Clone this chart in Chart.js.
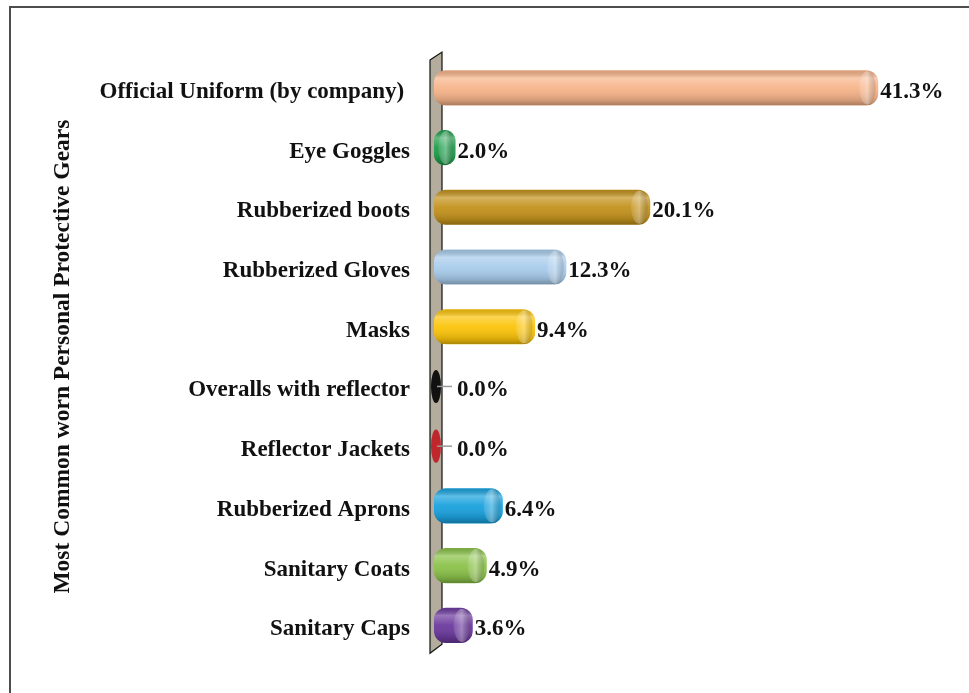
<!DOCTYPE html>
<html>
<head>
<meta charset="utf-8">
<script src="https://cdn.jsdelivr.net/npm/chart.js@4.4.1/dist/chart.umd.min.js"></script>
<style>
  html, body { margin: 0; padding: 0; background: #fff; overflow: hidden; }
  #frame { position: absolute; left: 9px; top: 6px; width: 1000px; height: 1000px;
           border: 2px solid #4d4d4d; box-sizing: border-box; }
  #wrap { position: absolute; left: 0; top: 0; width: 969px; height: 693px; }
</style>
</head>
<body>
<div id="frame"></div>
<div id="wrap"><canvas id="ppeChart" width="969" height="693"></canvas></div>
<script>
var gears = ['Official Uniform (by company) ', 'Eye Goggles', 'Rubberized boots', 'Rubberized Gloves',
  'Masks', 'Overalls with reflector', 'Reflector Jackets', 'Rubberized Aprons', 'Sanitary Coats', 'Sanitary Caps'];
var percents = [41.3, 2.0, 20.1, 12.3, 9.4, 0.0, 0.0, 6.4, 4.9, 3.6];
var barColors = ['#F7B48A', '#1F9E4B', '#C3921C', '#A9CCEC', '#FBC40A', '#111111', '#C0272D', '#1AA2DE', '#8BC24A', '#6C3A9E'];
var axisTitle = 'Most Common worn Personal Protective Gears';

var serif = '"Liberation Serif", "Times New Roman", serif';

// tan back wall behind the bars
var wallPlugin = {
  id: 'wall',
  beforeDatasetsDraw: function(chart) {
    var ctx = chart.ctx, a = chart.chartArea;
    var x0 = chart.scales.x.getPixelForValue(0);
    ctx.save();
    ctx.beginPath();
    ctx.moveTo(x0 - 4, a.top + 2);
    ctx.lineTo(x0 + 8, a.top - 6);
    ctx.lineTo(x0 + 8, a.bottom - 11);
    ctx.lineTo(x0 - 4, a.bottom - 2);
    ctx.closePath();
    ctx.fillStyle = '#B4AC9C';
    ctx.fill();
    ctx.lineWidth = 1.2;
    ctx.strokeStyle = '#111';
    ctx.stroke();
    ctx.restore();
  }
};

// cylinder shading, end caps and value labels
var cylinderPlugin = {
  id: 'cylinder',
  afterDatasetsDraw: function(chart) {
    var ctx = chart.ctx;
    var meta = chart.getDatasetMeta(0);
    var x0 = chart.scales.x.getPixelForValue(0);
    ctx.save();
    meta.data.forEach(function(bar, i) {
      var h = bar.height, top = bar.y - h / 2, w = bar.x - x0;
      var v = percents[i];
      if (w > 1) {
        var r = Math.min(12, w / 2, h / 2);
        ctx.save();
        ctx.beginPath();
        ctx.roundRect(x0, top, w, h, r);
        ctx.clip();
        var g = ctx.createLinearGradient(0, top, 0, top + h);
        g.addColorStop(0, 'rgba(0,0,0,0.12)');
        g.addColorStop(0.22, 'rgba(255,255,255,0.30)');
        g.addColorStop(0.5, 'rgba(255,255,255,0.05)');
        g.addColorStop(0.85, 'rgba(0,0,0,0.14)');
        g.addColorStop(1, 'rgba(0,0,0,0.32)');
        ctx.fillStyle = g;
        ctx.fillRect(x0, top, w, h);
        // right end cap highlight
        if (w > 20) {
          var cx = bar.x - r * 0.9;
          var hg = ctx.createLinearGradient(cx - r, 0, cx + r, 0);
          hg.addColorStop(0, 'rgba(255,255,255,0)');
          hg.addColorStop(0.5, 'rgba(255,255,255,0.35)');
          hg.addColorStop(1, 'rgba(0,0,0,0.12)');
          ctx.fillStyle = hg;
          ctx.beginPath();
          ctx.ellipse(cx, bar.y, r * 0.7, h / 2 - 1, 0, 0, Math.PI * 2);
          ctx.fill();
        }
        ctx.restore();
      } else {
        // zero length: only the end face of the cylinder shows
        ctx.fillStyle = barColors[i];
        ctx.beginPath();
        ctx.ellipse(x0 + 2, bar.y, 5, h / 2 - 1, 0, 0, Math.PI * 2);
        ctx.fill();
      }

      ctx.font = 'bold 23px ' + serif;
      ctx.fillStyle = '#111';
      ctx.textBaseline = 'middle';
      ctx.textAlign = 'left';
      var tx = bar.x + 2;
      if (w <= 1) {
        ctx.strokeStyle = '#9a9a9a';
        ctx.lineWidth = 1.5;
        ctx.beginPath();
        ctx.moveTo(x0 + 3, bar.y);
        ctx.lineTo(x0 + 18, bar.y);
        ctx.stroke();
        tx = x0 + 23;
      }
      ctx.fillText(v.toFixed(1) + '%', tx, bar.y + 4);
    });
    ctx.restore();
  }
};

new Chart(document.getElementById('ppeChart'), {
  type: 'bar',
  data: {
    labels: gears,
    datasets: [{
      data: percents,
      backgroundColor: barColors,
      borderWidth: 0,
      borderRadius: 12,
      borderSkipped: false,
      barPercentage: 0.98,
      categoryPercentage: 0.6
    }]
  },
  options: {
    indexAxis: 'y',
    responsive: false,
    animation: false,
    layout: { padding: { top: 58, bottom: 35, right: 51, left: 0 } },
    scales: {
      x: {
        display: false,
        min: 0,
        max: 45
      },
      y: {
        border: { display: false },
        grid: { display: false, drawTicks: false },
        afterFit: function(scale) { scale.width = 434; },
        ticks: {
          padding: 24,
          labelOffset: 4,
          color: '#111',
          font: { family: serif, size: 23, weight: 'bold' }
        },
        title: {
          display: true,
          text: axisTitle,
          color: '#111',
          padding: { top: 49, bottom: 0 },
          font: { family: serif, size: 23.5, weight: 'bold' }
        }
      }
    },
    plugins: {
      legend: { display: false },
      tooltip: { enabled: false }
    }
  },
  plugins: [wallPlugin, cylinderPlugin]
});
</script>
</body>
</html>
